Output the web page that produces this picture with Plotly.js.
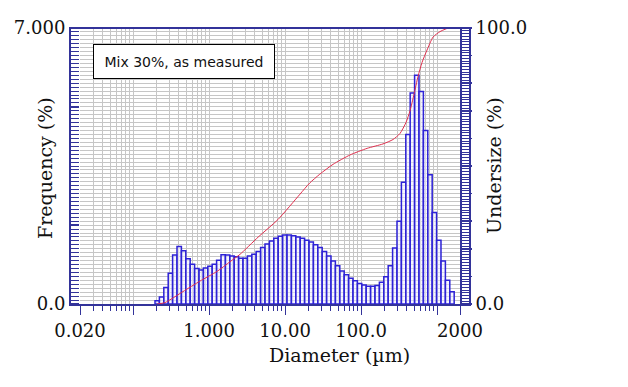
<!DOCTYPE html>
<html>
<head>
<meta charset="utf-8">
<script src="https://cdn.plot.ly/plotly-3.0.1.min.js"></script>
<style>html,body{margin:0;padding:0;background:#fff;}#chart{width:628px;height:387px;}</style>
</head>
<body>
<div id="chart"></div>
<script>
// Bin centre diameters (µm)
const diameters = [0.2074,0.2369,0.2708,0.3094,0.3535,0.4040,0.4615,0.5273,0.6024,0.6882,
  0.7864,0.8985,1.027,1.173,1.340,1.532,1.750,2.000,2.285,2.611,
  2.983,3.408,3.894,4.449,5.084,5.808,6.637,7.583,8.665,9.899,
  11.31,12.93,14.77,16.88,19.28,22.03,25.17,28.76,32.86,37.55,
  42.90,49.02,56.00,63.99,73.11,83.54,95.45,109.1,124.6,142.4,
  162.7,185.9,212.4,242.7,277.3,316.8,362.0,413.6,472.6,540.0,
  617.0,705.0,805.5,920.4,1052,1202,1373,1569];
// Frequency (%) per bin
const frequency = [0.08,0.18,0.42,0.78,1.24,1.46,1.35,1.15,1.01,0.90,
  0.86,0.91,0.96,1.01,1.11,1.25,1.24,1.22,1.20,1.16,
  1.16,1.22,1.26,1.33,1.43,1.52,1.60,1.67,1.72,1.75,
  1.75,1.73,1.70,1.67,1.62,1.57,1.50,1.43,1.33,1.22,
  1.09,0.97,0.84,0.74,0.65,0.59,0.52,0.48,0.45,0.45,
  0.47,0.55,0.69,0.97,1.42,2.10,3.09,4.30,5.35,5.80,
  5.39,4.40,3.28,2.32,1.62,1.09,0.60,0.31];
// Cumulative undersize curve (%)
const cumDiameters = [0.206,0.262,0.453,0.759,1.27,1.88,2.55,4.40,8.05,15.7,
  21.0,28.5,42.7,71.4,120,194,263,325,390,440,497,561,633,736,883,1092,1390];
const cumUndersize = [0,0.5,4.5,8.3,11.8,15.3,18.0,24.2,30.6,39.8,
  43.8,47.0,50.6,54.0,56.4,58.0,59.6,61.8,65.8,70.0,76.0,82.5,87.5,92.0,96.7,98.7,100];

// Tick labels
const xTickValues = [0.02,0.1,1,10,100,1000,2000];
const xTickText = ['0.020','','1.000','10.00','100.0','','2000'];
const yTickValues = [0,1,2,3,4,5,6,7];
const yTickText = ['0.0','','','','','','','7.000'];
const y2TickValues = [0,10,20,30,40,50,60,70,80,90,100];
const y2TickText = ['0.0','','','','','','','','','','100.0'];

const navy = '#33339a';
const grid = '#c6c6c6';
const serif = {family:'DejaVu Serif', size:18, color:'#111'};

const xMin = 0.02, xMax = 2000;
const minorVals = [];
for (let e = -2; e <= 3; e++) {
  for (let m = 2; m <= 9; m++) {
    const v = m * Math.pow(10, e);
    if (v > xMin * 1.0001 && v < xMax * 0.9999 && xTickValues.indexOf(v) < 0) minorVals.push(Math.log10(v));
  }
}
const binW = Math.log10(diameters[1] / diameters[0]);

const bars = {
  type:'bar',
  x: diameters.map(Math.log10),
  y: frequency,
  width: binW,
  marker:{color:'rgba(238,238,255,0.55)', line:{color:'#2d22d6', width:1.5}},
  xaxis:'x', yaxis:'y', hoverinfo:'skip'
};
const cum = {
  type:'scatter', mode:'lines',
  x: cumDiameters.map(Math.log10),
  y: cumUndersize,
  line:{color:'#e0304e', width:1, shape:'spline', smoothing:0.6},
  xaxis:'x', yaxis:'y2', hoverinfo:'skip'
};

const layout = {
  width:628, height:387,
  margin:{l:80, r:168, t:28, b:83, pad:0},
  paper_bgcolor:'#fff', plot_bgcolor:'#fff',
  showlegend:false, bargap:0,
  xaxis:{
    range:[Math.log10(xMin), Math.log10(xMax)],
    tickmode:'array', tickvals:xTickValues.map(Math.log10), ticktext:xTickText,
    ticks:'outside', ticklen:9, tickwidth:1, tickcolor:navy,
    showgrid:true, gridcolor:grid, gridwidth:1,
    minor:{tickmode:'array', tickvals:minorVals, ticks:'outside', ticklen:5, tickwidth:1, tickcolor:navy, showgrid:true, gridcolor:grid, gridwidth:1},
    showline:true, linecolor:navy, linewidth:2,
    zeroline:false, tickfont:serif, fixedrange:true
  },
  yaxis:{
    range:[0,7],
    tickmode:'array', tickvals:yTickValues, ticktext:yTickText,
    ticks:'outside', ticklen:10, tickwidth:1.5, tickcolor:navy,
    showgrid:true, gridcolor:grid, gridwidth:1,
    minor:{dtick:0.1, tick0:0, ticks:'outside', ticklen:9, tickwidth:1, tickcolor:navy, showgrid:true, gridcolor:grid, gridwidth:1},
    showline:false, zeroline:false, tickfont:serif, fixedrange:true
  },
  yaxis2:{
    overlaying:'y', side:'right', range:[0,100],
    tickmode:'array', tickvals:y2TickValues, ticktext:y2TickText,
    ticks:'outside', ticklen:10, tickwidth:1.5, tickcolor:navy,
    minor:{dtick:1, tick0:0, ticks:'outside', ticklen:9, tickwidth:1, tickcolor:navy, showgrid:false},
    showgrid:false, showline:true, linecolor:navy, linewidth:2,
    zeroline:false, tickfont:serif, fixedrange:true
  },
  shapes:[{
    type:'rect', xref:'paper', yref:'paper',
    xsizemode:'pixel', ysizemode:'pixel', xanchor:0, yanchor:0,
    x0:-10, x1:390, y0:-1, y1:276,
    line:{color:navy, width:2}, fillcolor:'rgba(0,0,0,0)', layer:'above'
  }],
  annotations:[
    {text:'Mix 30%, as measured', xref:'paper', yref:'paper', x:0.034, y:0.942,
     xanchor:'left', yanchor:'top', showarrow:false, align:'center',
     width:178, height:31, borderpad:1, bordercolor:'#000', borderwidth:1, bgcolor:'#fff',
     font:{family:'DejaVu Sans', size:14, color:'#111'}},
    {text:'Frequency (%)', xref:'paper', yref:'paper', x:(45-80)/380, y:(304-168)/276,
     xanchor:'center', yanchor:'middle', textangle:-90, showarrow:false,
     font:{family:'DejaVu Serif', size:19, color:'#111'}},
    {text:'Undersize (%)', xref:'paper', yref:'paper', x:(494-80)/380, y:(304-166)/276,
     xanchor:'center', yanchor:'middle', textangle:-90, showarrow:false,
     font:{family:'DejaVu Serif', size:19, color:'#111'}},
    {text:'Diameter (µm)', xref:'paper', yref:'paper', x:(339-80)/380, y:(304-355)/276,
     xanchor:'center', yanchor:'middle', showarrow:false,
     font:{family:'DejaVu Serif', size:19, color:'#111'}}
  ]
};

Plotly.newPlot('chart', [bars, cum], layout, {displayModeBar:false, staticPlot:true});
</script>
</body>
</html>
